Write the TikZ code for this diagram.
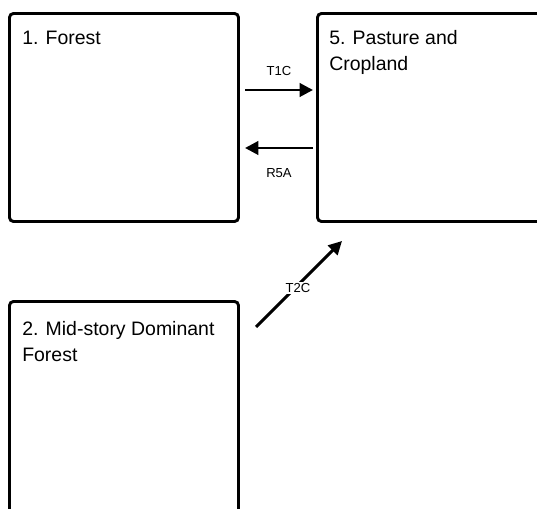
\documentclass[tikz,border=0pt]{standalone}
\usepackage{fontspec}
\setmainfont{Liberation Sans}
\usetikzlibrary{arrows.meta}
\begin{document}
\begin{tikzpicture}[x=0.75pt,y=-0.75pt,
  statebox/.style={draw,line width=2.2pt,rounded corners=3pt,inner sep=0pt,
    minimum width=171.75pt,minimum height=156pt},
  title/.style={anchor=base west,inner sep=0pt,align=left,
    font=\fontsize{14.6}{19.5}\selectfont},
  trans/.style={line width=2.2pt,-{Triangle[length=10pt,width=10pt]}},
  lab/.style={font=\fontsize{9.8}{11}\selectfont,inner sep=1pt}]
\useasboundingbox (0,0) rectangle (537,509);
\clip (0,0) rectangle (537,509);
\node[statebox] (b1) at (124,117.5) {};
\node[statebox] (b5) at (432,117.5) {};
\node[statebox,minimum height=172.5pt] (b2) at (124,416.5) {};
\node[title] (t1) at (22,45) {1. Forest};
\node[title] (t5) at (329,71) {5. Pasture and\\Cropland};
\node[title] (t2) at (22,361.5) {2. Mid-story Dominant\\Forest};
\coordinate (a1s) at (245,90);
\coordinate (a1e) at (313,90);
\coordinate (a2s) at (313,148);
\coordinate (a2e) at (245,148);
\coordinate (a3s) at (256,327);
\coordinate (a3e) at (342,241);
\draw[trans] (a1s) -- (a1e);
\draw[trans] (a2s) -- (a2e);
\draw[trans] (a3s) -- (a3e);
\node[lab] (l1) at (279,71.5) {T1C};
\node[lab] (l2) at (279,173.5) {R5A};
\node[lab,fill=white] (l3) at (298,288) {T2C};
\end{tikzpicture}
\end{document}
